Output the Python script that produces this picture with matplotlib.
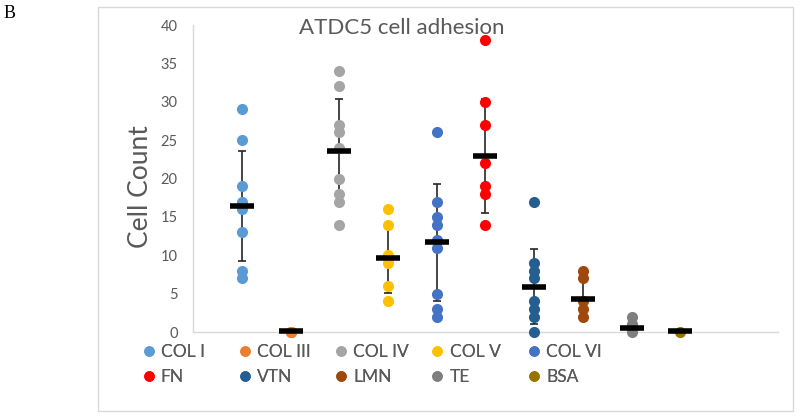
import numpy as np
import matplotlib
matplotlib.use("Agg")
import matplotlib.pyplot as plt
from matplotlib.patches import Rectangle

plt.rcParams['font.family'] = ['Lato', 'DejaVu Sans']

# data
labels = ['COL I', 'COL III', 'COL IV', 'COL V', 'COL VI',
          'FN', 'VTN', 'LMN', 'TE', 'BSA']
colors = ['#5B9BD5', '#ED7D31', '#A5A5A5', '#FFC000', '#4472C4',
          '#FF0000', '#255E91', '#9E480E', '#7F7F7F', '#997300']
col_i = [29, 25, 19, 17, 16, 13, 8, 7]
col_iii = [0, 0, 0]
col_iv = [34, 32, 27, 26, 24, 20, 18, 17, 14]
col_v = [16, 14, 10, 9, 6, 4]
col_vi = [26, 17, 15, 14, 12, 11, 5, 3, 2]
fn = [38, 30, 27, 22, 19, 18, 14]
vtn = [17, 9, 8, 7, 4, 3, 2, 0]
lmn = [8, 7, 4, 3, 2]
te = [2, 1, 0]
bsa = [0]
points = [col_i, col_iii, col_iv, col_v, col_vi, fn, vtn, lmn, te, bsa]
means = [16.4, 0.1, 23.6, 9.6, 11.7, 22.9, 5.9, 4.3, 0.5, 0.1]
sds = [7.2, 0.0, 6.7, 4.5, 7.6, 7.4, 4.9, 2.5, 1.0, 0.1]

grey = '#595959'

fig = plt.figure(figsize=(8, 4.17), dpi=100)
ax = fig.add_axes([193/800, 1 - 332/417, 585/800, 307/417])

xs = np.arange(1, len(labels) + 1)
ax.errorbar(xs, means, yerr=sds, fmt='none', ecolor='#262626',
            elinewidth=1.2, capsize=3, capthick=1.2, zorder=2)
handles = []
for x, vals, c, lab in zip(xs, points, colors, labels):
    h, = ax.plot(np.full(len(vals), x), vals, 'o', color=c, ms=8,
                 mec='none', label=lab, zorder=3, clip_on=False)
    handles.append(h)
ax.plot(xs, means, '_', color='black', ms=17.5, mew=4, zorder=4,
        clip_on=False)

ax.set_xlim(0, 12)
ax.set_ylim(0, 40)
ax.set_yticks(range(0, 41, 5))
ax.set_xticks([])
ax.tick_params(axis='y', length=0, pad=11, labelsize=10.5, labelcolor=grey)
for s in ['top', 'right']:
    ax.spines[s].set_visible(False)
for s in ['left', 'bottom']:
    ax.spines[s].set_color('#D9D9D9')
    ax.spines[s].set_linewidth(1)
ax.set_ylabel('Cell Count', fontsize=19, color=grey)
ax.yaxis.set_label_coords(-0.068, 0.475)

fig.text(402/800, 1 - 28/417, 'ATDC5 cell adhesion', ha='center',
         va='center', fontsize=16, color=grey)
fig.text(4/800, 1 - 13/417, 'B', ha='left', va='center', fontsize=13,
         family='Liberation Serif', color='black')

# legend: 5 columns, 2 rows
for j in range(5):
    leg = fig.legend([handles[j], handles[j + 5]], [labels[j], labels[j + 5]],
                     loc='upper left',
                     bbox_to_anchor=((141.6 + 96.3 * j) / 800, 1 - 344/417),
                     frameon=False, fontsize=12.5, handlelength=0.8,
                     handletextpad=0.3, borderpad=0, borderaxespad=0,
                     labelspacing=0.5, labelcolor=grey, markerscale=0.95)
    fig.add_artist(leg)

fig.patches.append(Rectangle((97.7/800, 6/417), 695/800, 404.5/417,
                             transform=fig.transFigure, fill=False,
                             edgecolor='#D9D9D9', linewidth=1))

fig.savefig('out.png', dpi=100)
